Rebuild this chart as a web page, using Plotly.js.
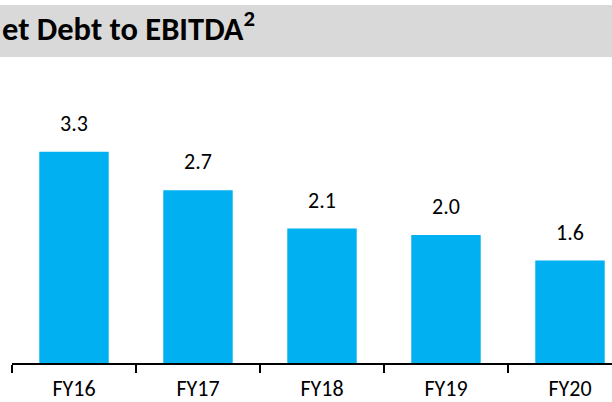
<!DOCTYPE html>
<html><head><meta charset="utf-8">
<script src="https://cdn.plot.ly/plotly-3.0.1.min.js"></script>
<style>html,body{margin:0;padding:0;background:#fff}#chart{width:612px;height:402px}</style>
</head><body><div id="chart"></div>
<script>
const categories = ["FY16", "FY17", "FY18", "FY19", "FY20"];
const values = [3.3, 2.7, 2.1, 2.0, 1.6];
const valueLabels = ["3.3", "2.7", "2.1", "2.0", "1.6"];
const titleText = "et Debt to EBITDA<sup>2</sup>";

const W = 612, H = 402;
const ml = 12, mr = 0, mt = 60, mb = 39;
const pw = W - ml - mr, ph = H - mt - mb;
const catPx = 124;
const pxPerUnit = 64;

const font = "Carlito, Calibri, Lato, sans-serif";

const trace = {
  type: "bar",
  x: categories,
  y: values,
  marker: {color: "#00B0F0"},
  width: 0.56,
  hoverinfo: "skip"
};

const annotations = categories.map((c, i) => ({
  x: c, y: values[i], text: valueLabels[i],
  xref: "x", yref: "y", showarrow: false,
  yanchor: "bottom", yshift: 13,
  font: {family: font, size: 22, color: "#000"}
}));
annotations.push({
  xref: "paper", yref: "paper",
  x: (0 - ml) / pw, y: (H - mb - 27) / ph,
  xanchor: "left", yanchor: "middle",
  text: "<b>" + titleText + "</b>", showarrow: false,
  font: {family: font, size: 32.5, color: "#000"}
});

const layout = {
  width: W, height: H,
  margin: {l: ml, r: mr, t: mt, b: mb, pad: 0},
  paper_bgcolor: "#fff", plot_bgcolor: "#fff",
  showlegend: false,
  xaxis: {
    type: "category",
    range: [-0.5, -0.5 + pw / catPx],
    tickson: "boundaries",
    ticks: "outside", ticklen: 8, tickwidth: 1.3, tickcolor: "#000",
    ticklabelstandoff: 5,
    showline: true, linecolor: "#000", linewidth: 2,
    showgrid: false, zeroline: false,
    tickfont: {family: font, size: 22, color: "#000"},
    fixedrange: true
  },
  yaxis: {
    range: [0, ph / pxPerUnit],
    visible: false, showgrid: false, zeroline: false, fixedrange: true
  },
  shapes: [{
    type: "rect", xref: "paper", yref: "paper",
    x0: -ml / pw, x1: 1.01,
    y0: (H - mb - 57) / ph, y1: (H - mb - 5) / ph,
    fillcolor: "#D9D9D9", line: {width: 0}, layer: "below"
  }],
  annotations: annotations,
  bargap: 0.44
};

Plotly.newPlot("chart", [trace], layout, {displayModeBar: false, staticPlot: true});
</script></body></html>
